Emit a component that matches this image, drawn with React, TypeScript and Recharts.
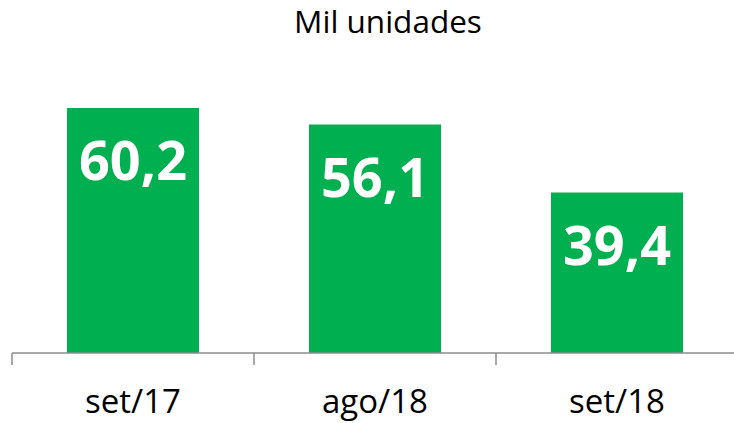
import { BarChart, Bar, XAxis, YAxis, LabelList } from 'recharts';

const categories = ['set/17', 'ago/18', 'set/18'];
const values = [60.2, 56.1, 39.4];
const TITLE = 'Mil unidades';

const FONT = '"Open Sans", Lato, sans-serif';
const GREEN = '#00B050';
const AXIS_GRAY = '#8c8c8c';

const data = categories.map((c, i) => ({ name: c, value: values[i] }));

const CHART_W = 750;
const CHART_H = 423;
const MARGIN = { top: 68, right: 12, bottom: 0, left: 12 };
const BAND = (CHART_W - MARGIN.left - MARGIN.right) / categories.length;

// tick y comes in 8px below the axis line (tickSize + tickMargin)
function CategoryTick(props: any) {
  const { x, y, payload } = props;
  const left = x - BAND / 2;
  return (
    <g>
      <line x1={left} y1={y - 8} x2={left} y2={y + 4} stroke={AXIS_GRAY} strokeWidth={1.5} />
      <text x={x} y={y + 52} textAnchor="middle" fontFamily={FONT} fontSize={33} fill="#000">
        {payload.value}
      </text>
    </g>
  );
}

function ValueLabel(props: any) {
  const { x, y, width, value } = props;
  return (
    <text
      x={x + width / 2}
      y={y + 72}
      textAnchor="middle"
      fontFamily={FONT}
      fontWeight={700}
      fontSize={54}
      fill="#fff"
    >
      {String(value).replace('.', ',')}
    </text>
  );
}

export default function App() {
  return (
    <div style={{ position: 'fixed', left: 0, top: 0, width: 734, height: 423, overflow: 'hidden', background: '#fff' }}>
      <svg width={734} height={50} style={{ position: 'absolute', left: 0, top: 0 }}>
        <text x={388} y={33} textAnchor="middle" fontFamily={FONT} fontSize={31.5} fill="#000">
          {TITLE}
        </text>
      </svg>
      <BarChart width={CHART_W} height={CHART_H} data={data} margin={MARGIN} barCategoryGap={0}>
        <XAxis
          dataKey="name"
          height={70}
          axisLine={{ stroke: AXIS_GRAY, strokeWidth: 1.5 }}
          tickLine={false}
          tick={<CategoryTick />}
          interval={0}
        />
        <YAxis hide domain={[0, 70]} />
        <Bar dataKey="value" fill={GREEN} barSize={132} isAnimationActive={false}>
          <LabelList dataKey="value" content={<ValueLabel />} />
        </Bar>
      </BarChart>
    </div>
  );
}
